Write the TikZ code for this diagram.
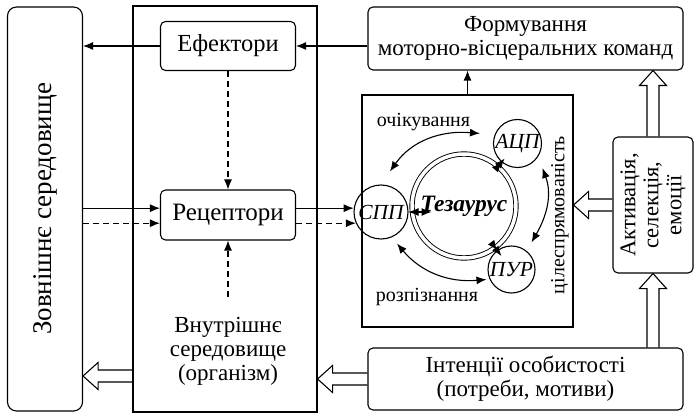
\documentclass[tikz,border=0pt]{standalone}
\usepackage{fontspec}
\setmainfont{Liberation Serif}
\usetikzlibrary{arrows.meta,calc}

\pgfdeclarelayer{bg}
\pgfsetlayers{bg,main}

% hollow (white) arrow from #1 to #2
\newcommand{\fatarrow}[2]{%
  \coordinate (fa-s) at (#1);
  \coordinate (fa-e) at (#2);
  \coordinate (fa-h) at ($(fa-e)!15pt!(fa-s)$);
  \draw[line width=1.1pt,fill=white] ($(fa-s)!6pt!90:(fa-e)$) -- ($(fa-h)!6pt!90:(fa-e)$)
    -- ($(fa-h)!13.5pt!90:(fa-e)$) -- (fa-e) -- ($(fa-h)!13.5pt!-90:(fa-e)$)
    -- ($(fa-h)!6pt!-90:(fa-e)$) -- ($(fa-s)!6pt!-90:(fa-e)$);
}

\begin{document}
\begin{tikzpicture}[x=1pt,y=-1pt,line width=1.1pt,font=\fontsize{23}{24}\selectfont,
  rbox/.style={draw,rounded corners=5pt,align=center,inner sep=0pt},
  sbox/.style={draw,inner sep=0pt},
  circ/.style={draw,circle,inner sep=0pt,font=\fontsize{21.5}{23}\selectfont\itshape},
  lbl/.style={font=\fontsize{20}{22}\selectfont},
  arr/.style={-{Latex[length=10pt,width=8pt]}},
  dbl/.style={{Latex[length=10pt,width=8pt]}-{Latex[length=10pt,width=8pt]}},
  dsh/.style={dash pattern=on 6pt off 4pt}]
  \useasboundingbox (0,0) rectangle (696,414);

  % boxes
  \node[rbox,rounded corners=9pt,minimum width=75pt,minimum height=404pt,
    label={[rotate=90,font=\fontsize{27}{30}\selectfont]center:Зовнішнє середовище}] (zovn) at (45,209) {};
  \node[sbox,minimum width=184pt,minimum height=406pt] (vnutr) at (225,209) {};
  \node[rbox,minimum width=135pt,minimum height=49pt,font=\fontsize{24.5}{26}\selectfont] (efek) at (228,46) {Ефектори};
  \node[rbox,minimum width=135pt,minimum height=50pt,font=\fontsize{25}{26}\selectfont] (recep) at (228,215) {Рецептори};
  \node[align=center,font=\fontsize{23}{24}\selectfont] (vntext) at (228,351) {Внутрішнє\\середовище\\(організм)};
  \node[rbox,minimum width=315pt,minimum height=63pt] (form) at (525.5,38.5) {Формування\\моторно-вісцеральних команд};
  \node[sbox,minimum width=211pt,minimum height=232pt] (tbox) at (467.5,211) {};
  \node[rbox,minimum width=80pt,minimum height=136pt,
    label={[rotate=90,align=center,font=\fontsize{22.5}{23}\selectfont]center:{Активація,\\селекція,\\емоції}}] (akt) at (653,205) {};
  \node[rbox,minimum width=315pt,minimum height=62pt] (intent) at (525.5,379) {Інтенції особистості\\(потреби, мотиви)};

  % circles
  \node[circ,line width=0.9pt,double,double distance=3.5pt,minimum size=104pt,
    font=\fontsize{23.5}{25}\selectfont\bfseries\itshape] (tez) at (464,206) {Тезаурус};
  \node[circ,minimum size=54pt] (spp) at (381,212) {СПП};
  \node[circ,minimum size=48pt] (acp) at (517.5,143.5) {АЦП};
  \node[circ,minimum size=47pt] (pur) at (511.5,269.5) {ПУР};

  \node[lbl] (ochik) at (423.5,122) {очікування};
  \node[lbl] (rozp) at (427,297) {розпізнання};
  \node[lbl,rotate=90] (tsil) at (560,215) {цілеспрямованість};

  % arrows
  \draw[arr] (efek.west) -- (efek.west -| zovn.east);
  \draw[arr] (form.west |- efek.east) -- (efek.east);
  \draw[arr,dsh] (efek) -- (recep);
  \draw[arr] (zovn.east |- spp.172) -- (recep.west |- spp.172);
  \draw[arr,dsh] (zovn.east |- spp.204) -- (recep.west |- spp.204);
  \draw[arr] (recep.east |- spp.172) -- (spp.172);
  \draw[arr,dsh] (recep.east |- spp.204) -- (spp.204);
  \draw[arr,dsh] ([yshift=16pt]vntext.north) -- (recep.south);
  \draw[arr] (tbox.north) -- (tbox.north |- form.south);

  \draw[dbl] ([shift={(9pt,13pt)}]spp.north) to[out=55,in=175] ([shift={(-13pt,10pt)}]acp.west);
  \draw[dbl] ([shift={(16pt,-4pt)}]spp.south) to[out=-50,in=185] ([shift={(-1pt,-10pt)}]pur.west);
  \draw[dbl] ([shift={(25pt,0pt)}]acp.south) to[out=-70,in=60] ([shift={(20pt,3pt)}]pur.north);
  \draw[dbl] (spp.east) -- ([xshift=20pt]spp.east -| tez.west);
  \draw[dbl,shorten <=-10pt] (tez) -- (acp);
  \draw[dbl,shorten <=-10pt] (tez) -- (pur);

  \coordinate (lvl) at ([yshift=3pt]intent.west);
  \begin{pgfonlayer}{bg}
    \fatarrow{akt.north}{akt.north |- form.south}
    \fatarrow{intent.north -| akt.south}{akt.south}
    \fatarrow{akt.west}{akt.west -| tbox.east}
    \fatarrow{intent.west}{intent.west -| vnutr.east}
    \fatarrow{vnutr.west |- lvl}{zovn.east |- lvl}
  \end{pgfonlayer}
\end{tikzpicture}
\end{document}
